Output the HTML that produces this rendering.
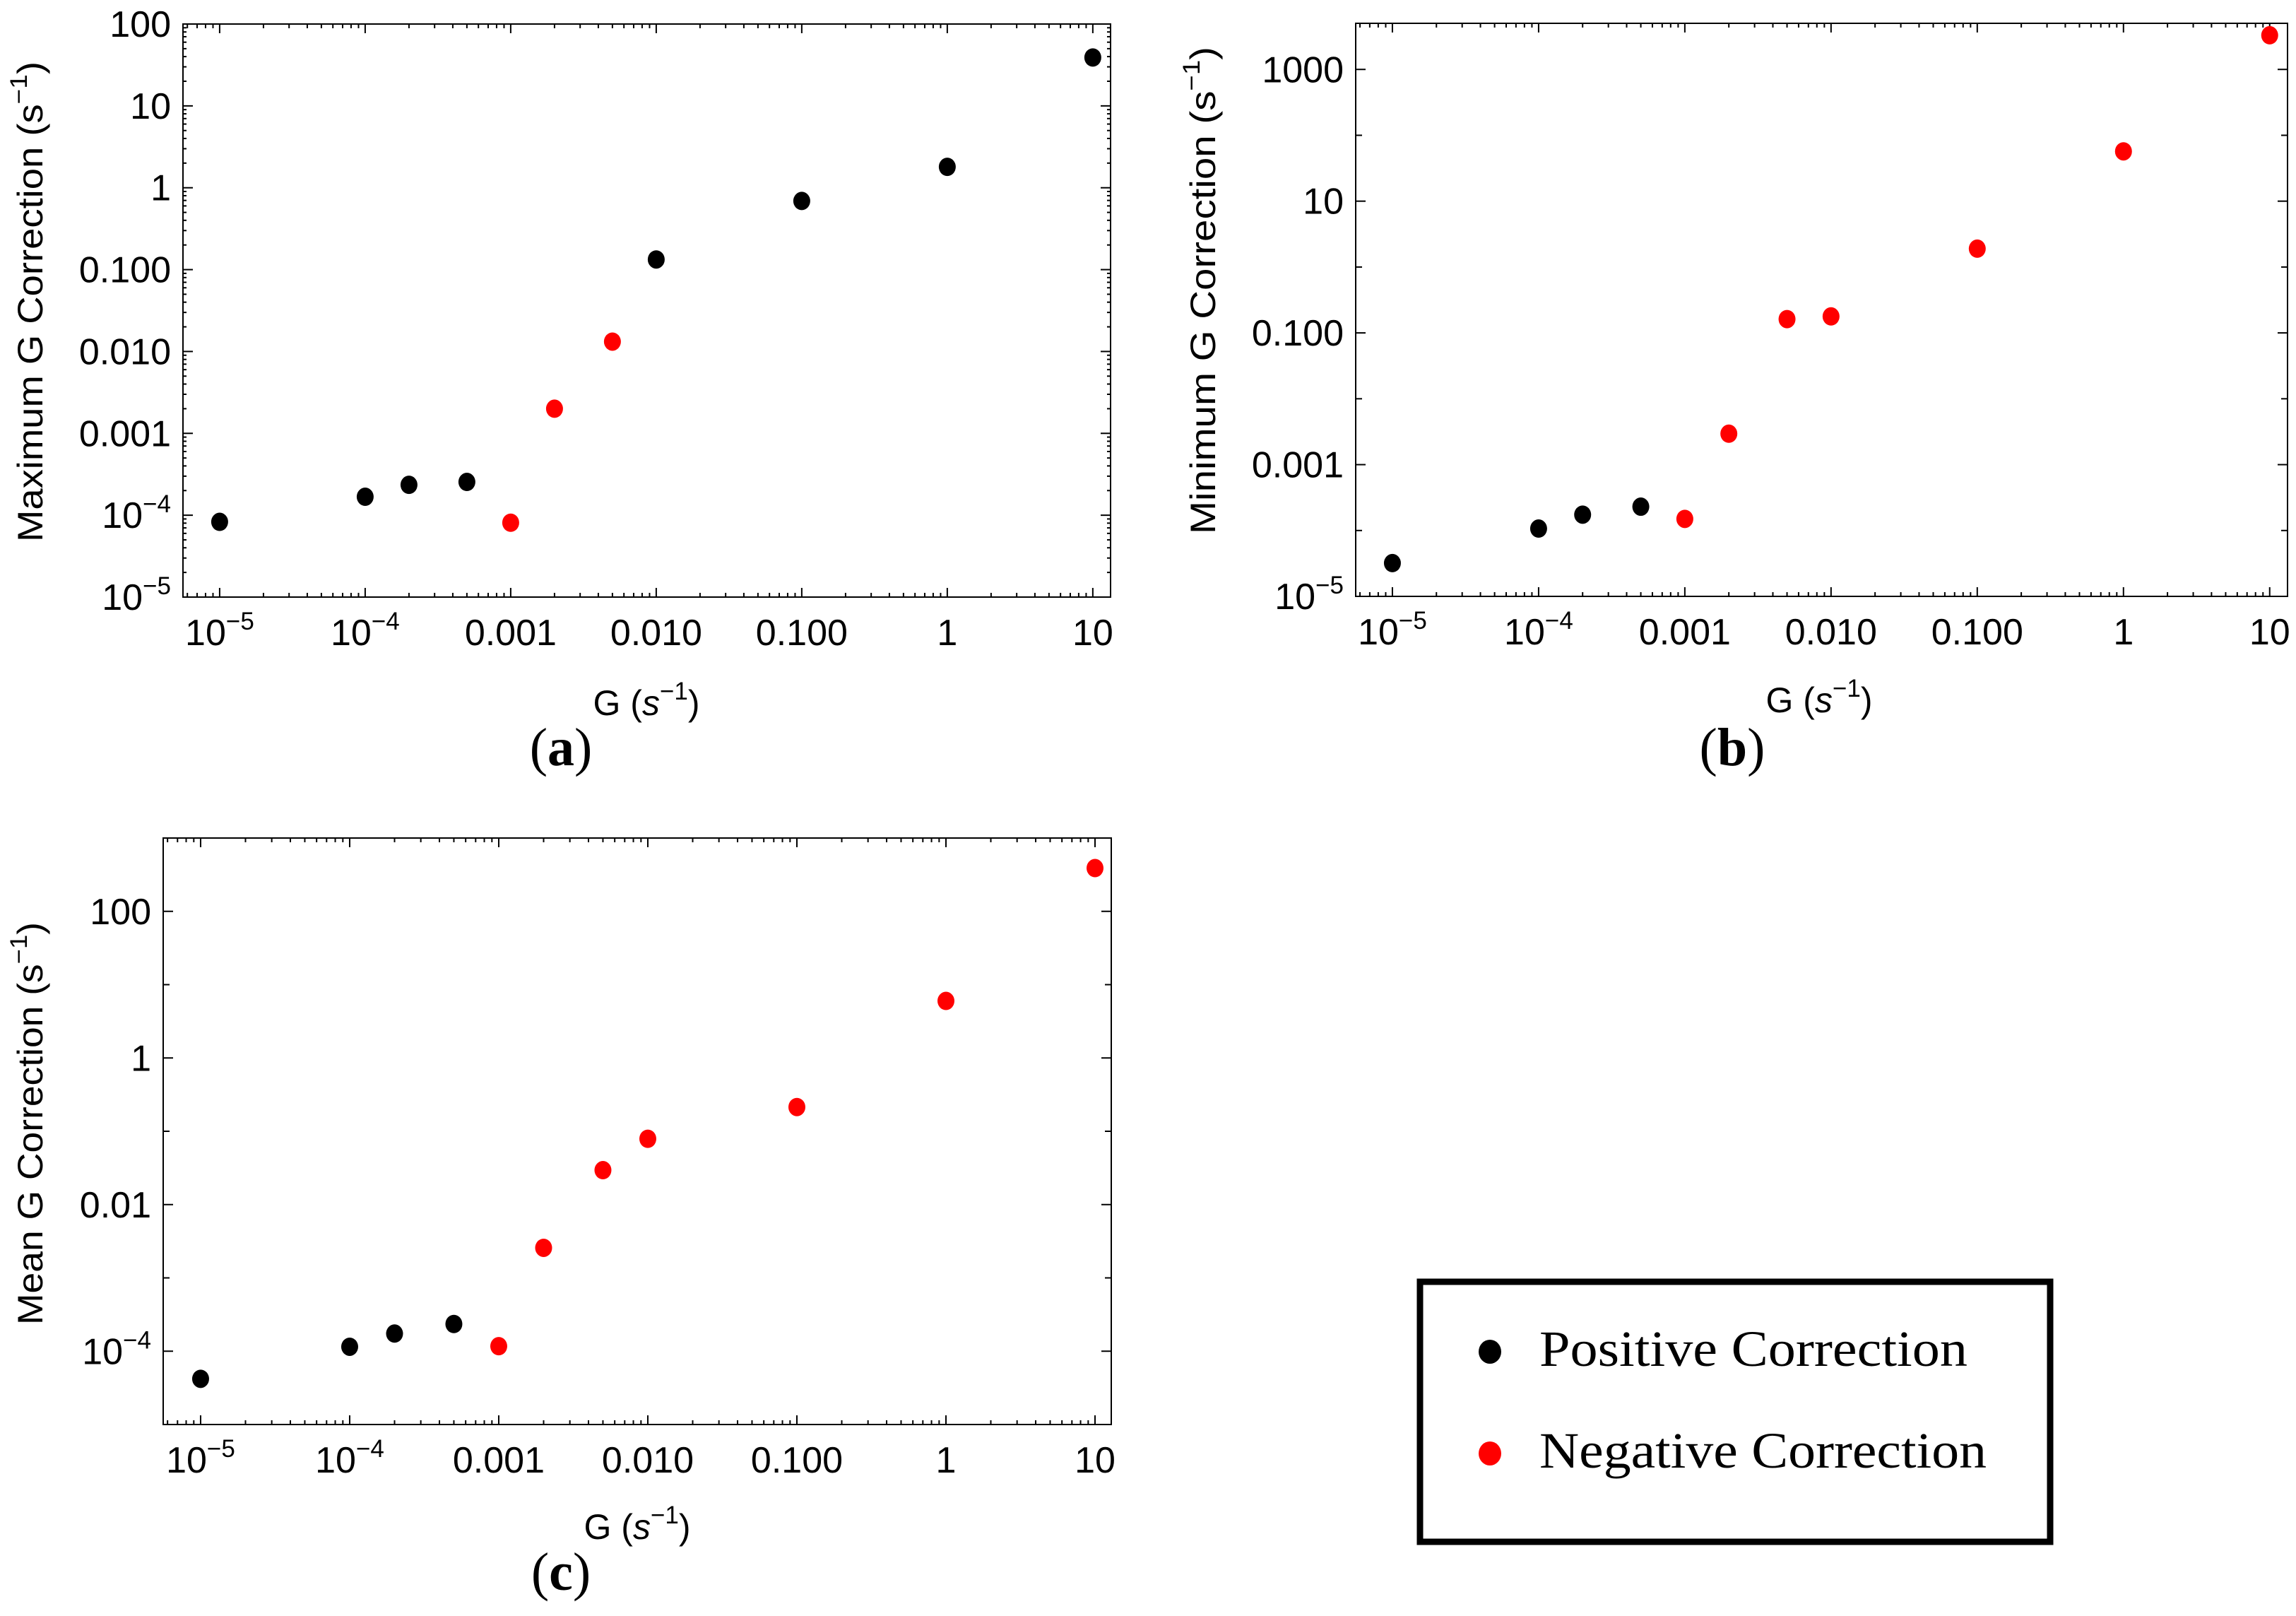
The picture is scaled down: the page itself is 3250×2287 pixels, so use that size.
<!DOCTYPE html>
<html><head><meta charset="utf-8"><style>
html,body{margin:0;padding:0;background:#fff;}
svg{display:block;}
text{font-family:"Liberation Sans",Arial,sans-serif;fill:#000;}
.serif{font-family:"Liberation Serif","Times New Roman",serif;}
</style></head><body>
<svg id="fig" xmlns="http://www.w3.org/2000/svg" width="3250" height="2287" viewBox="0 0 3250 2287">
<rect x="0" y="0" width="3250" height="2287" fill="#fff"/>
<g>
<rect x="2010" y="1814" width="892" height="368" fill="#fff" stroke="#000" stroke-width="9"/>
<ellipse cx="2109" cy="1913" rx="16" ry="17" fill="#000"/>
<text class="serif" x="2179" y="1933" font-size="72" textLength="606" lengthAdjust="spacingAndGlyphs">Positive Correction</text>
<ellipse cx="2109" cy="2057" rx="16" ry="17" fill="#ff0000"/>
<text class="serif" x="2179" y="2077" font-size="72" textLength="633" lengthAdjust="spacingAndGlyphs">Negative Correction</text>
</g>
</svg>
<script>
// ---- data (x = G in s^-1, y = correction in s^-1) ----
const aPosX = [1e-5, 1e-4, 2e-4, 5e-4, 0.01, 0.1, 1, 10];
const aPosY = [8.3e-5, 1.68e-4, 2.35e-4, 2.55e-4, 0.133, 0.69, 1.8, 39];
const aNegX = [0.001, 0.002, 0.005];
const aNegY = [8.1e-5, 0.0020, 0.0132];
const bPosX = [1e-5, 1e-4, 2e-4, 5e-4];
const bPosY = [3.2e-5, 1.07e-4, 1.74e-4, 2.3e-4];
const bNegX = [0.001, 0.002, 0.005, 0.01, 0.1, 1, 10];
const bNegY = [1.5e-4, 2.95e-3, 0.162, 0.178, 1.9, 57, 3300];
const cPosX = [1e-5, 1e-4, 2e-4, 5e-4];
const cPosY = [4.2e-5, 1.15e-4, 1.74e-4, 2.35e-4];
const cNegX = [0.001, 0.002, 0.005, 0.01, 0.1, 1, 10];
const cNegY = [1.17e-4, 2.57e-3, 0.0295, 0.079, 0.214, 6.0, 389];
const xTickExps = [-5, -4, -3, -2, -1, 0, 1];
const xTickLabels = ["10^-5", "10^-4", "0.001", "0.010", "0.100", "1", "10"];
const aYTickExps = [2, 1, 0, -1, -2, -3, -4, -5];
const aYTickLabels = ["100", "10", "1", "0.100", "0.010", "0.001", "10^-4", "10^-5"];
const bYTickExps = [3, 1, -1, -3, -5];
const bYTickLabels = ["1000", "10", "0.100", "0.001", "10^-5"];
const cYTickExps = [2, 0, -2, -4];
const cYTickLabels = ["100", "1", "0.01", "10^-4"];

const NS = "http://www.w3.org/2000/svg";
const svg = document.getElementById("fig");
function mk(tag, attrs, parent) {
  const e = document.createElementNS(NS, tag);
  for (const k in attrs) e.setAttribute(k, attrs[k]);
  (parent || svg).appendChild(e);
  return e;
}
function addLabel(t, label, big, sup) {
  if (label.indexOf("10^") === 0) {
    const s1 = mk("tspan", {}, t); s1.textContent = "10";
    const s2 = mk("tspan", {dy: -22, "font-size": sup}, t); s2.textContent = "\u2212" + label.slice(4);
  } else t.textContent = label;
}
function panel(cfg) {
  const g = mk("g", {});
  
  
  const L = cfg.left, R = cfg.right, T = cfg.top, B = cfg.bottom;
  const xs = v => L + (Math.log10(v) - cfg.xmin) / (cfg.xmax - cfg.xmin) * (R - L);
  const ys = v => B - (Math.log10(v) - cfg.ymin) / (cfg.ymax - cfg.ymin) * (B - T);
  const frame = mk("rect", {x: L, y: T, width: R - L, height: B - T, fill: "none", stroke: "#000", "stroke-width": 2}, g);
  
  
  const ticks = mk("g", {stroke: "#000", "stroke-width": 2}, g);
  
  
  for (let e = -6; e <= 1; e++) {
    for (let m = 1; m <= 9; m++) {
      const v = m * Math.pow(10, e);
      const lv = Math.log10(v);
      if (lv < cfg.xmin || lv > cfg.xmax) continue;
      const x = xs(v), len = m === 1 ? 13 : 6;
      mk("line", {x1: x, x2: x, y1: B, y2: B - len}, ticks);
      mk("line", {x1: x, x2: x, y1: T, y2: T + len}, ticks);
    }
  }
  for (let e = -6; e <= 4; e++) {
    for (let m = 1; m <= 9; m++) {
      if (m > 1 && !cfg.yMinor) continue;
      const v = m * Math.pow(10, e);
      const lv = Math.log10(v);
      if (lv < cfg.ymin || lv > cfg.ymax) continue;
      const y = ys(v);
      const len = m === 1 ? (cfg.yLabeled.indexOf(e) >= 0 ? 14 : 9) : 5;
      mk("line", {x1: L, x2: L + len, y1: y, y2: y}, ticks);
      mk("line", {x1: R, x2: R - len, y1: y, y2: y}, ticks);
    }
  }
  xTickExps.forEach((e, i) => {
    const t = mk("text", {x: xs(Math.pow(10, e)), y: B + 68, "font-size": 52, "text-anchor": "middle"}, g);
    
    
    addLabel(t, xTickLabels[i], 52, 35);
  });
  cfg.yTickExps.forEach((e, i) => {
    const t = mk("text", {x: L - 17, y: ys(Math.pow(10, e)) + 18, "font-size": 52, "text-anchor": "end"}, g);
    
    
    addLabel(t, cfg.yTickLabels[i], 52, 35);
  });
  cfg.series.forEach(s => {
    s.x.forEach((xv, i) => {
      const c = mk("ellipse", {cx: xs(xv), cy: ys(s.y[i]), rx: 12, ry: 13, fill: s.color}, g);
      
      
    });
  });
  const xt = mk("text", {x: cfg.xtX, y: cfg.xtY, "font-size": 50, "text-anchor": "middle"}, g);
  
  
  const x1 = mk("tspan", {}, xt); x1.textContent = "G (";
  const x2 = mk("tspan", {"font-style": "italic"}, xt); x2.textContent = "s";
  const x3 = mk("tspan", {dy: -22, "font-size": 35}, xt); x3.textContent = "\u22121";
  const x4 = mk("tspan", {dy: 22}, xt); x4.textContent = ")";
  const yt = mk("text", {x: 0, y: 0, "font-size": 50, "text-anchor": "middle", transform: "translate(" + cfg.ytX + "," + cfg.ytY + ") rotate(-90)", textLength: cfg.ytLen, lengthAdjust: "spacingAndGlyphs"}, g);
  
  
  const y1 = mk("tspan", {}, yt); y1.textContent = cfg.ytitle + " (s";
  const y3 = mk("tspan", {dy: -22, "font-size": 34}, yt); y3.textContent = "\u22121";
  const y4 = mk("tspan", {dy: 22}, yt); y4.textContent = ")";
  const pl = mk("text", {x: cfg.plX, y: cfg.plY, "font-size": 76, "text-anchor": "middle", "class": "serif"}, g);
  
  
  const p1 = mk("tspan", {}, pl); p1.textContent = "(";
  const p2 = mk("tspan", {"font-weight": "bold"}, pl); p2.textContent = cfg.letter;
  const p3 = mk("tspan", {}, pl); p3.textContent = ")";
}
panel({name: "panel-a-maximum", left: 259, right: 1572, top: 34, bottom: 845,
  xmin: -5.252, xmax: 1.122, ymin: -5, ymax: 2, yMinor: true, yLabeled: aYTickExps,
  yTickExps: aYTickExps, yTickLabels: aYTickLabels,
  series: [{x: aPosX, y: aPosY, color: "#000", pname: "point-positive"}, {x: aNegX, y: aNegY, color: "#ff0000", pname: "point-negative"}],
  xtX: 915, xtY: 1012, ytX: 60, ytY: 427, ytLen: 680, ytitle: "Maximum G Correction", plX: 794, plY: 1083, letter: "a"});
panel({name: "panel-b-minimum", left: 1919, right: 3238, top: 33, bottom: 844,
  xmin: -5.251, xmax: 1.122, ymin: -5, ymax: 3.7, yMinor: false, yLabeled: bYTickExps,
  yTickExps: bYTickExps, yTickLabels: bYTickLabels,
  series: [{x: bPosX, y: bPosY, color: "#000", pname: "point-positive"}, {x: bNegX, y: bNegY, color: "#ff0000", pname: "point-negative"}],
  xtX: 2575, xtY: 1008, ytX: 1720, ytY: 411, ytLen: 690, ytitle: "Minimum G Correction", plX: 2452, plY: 1083, letter: "b"});
panel({name: "panel-c-mean", left: 231, right: 1573, top: 1186, bottom: 2016,
  xmin: -5.251, xmax: 1.109, ymin: -5, ymax: 3, yMinor: false, yLabeled: cYTickExps,
  yTickExps: cYTickExps, yTickLabels: cYTickLabels,
  series: [{x: cPosX, y: cPosY, color: "#000", pname: "point-positive"}, {x: cNegX, y: cNegY, color: "#ff0000", pname: "point-negative"}],
  xtX: 902, xtY: 2178, ytX: 60, ytY: 1590, ytLen: 570, ytitle: "Mean G Correction", plX: 794, plY: 2250, letter: "c"});
</script>
</body></html>
